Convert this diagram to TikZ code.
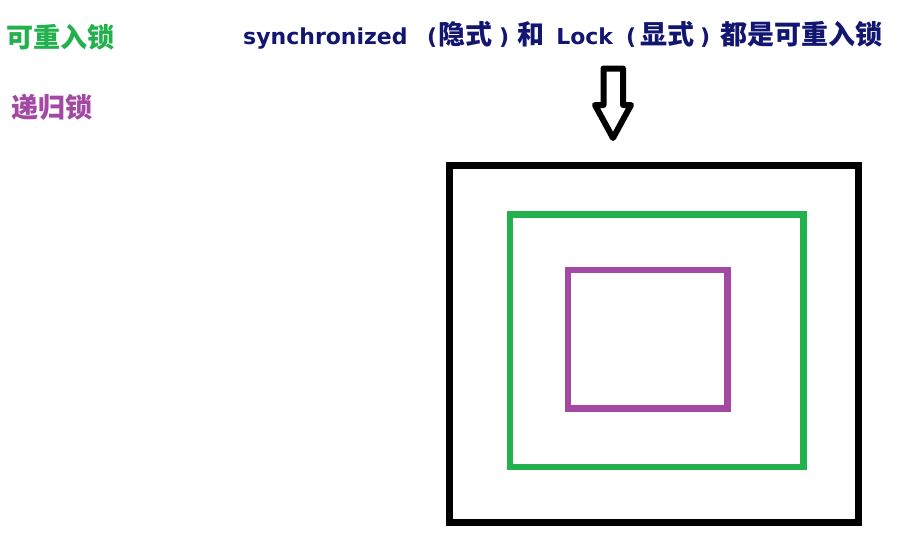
\documentclass[tikz,border=0pt]{standalone}
\usepackage{fontspec}
\setmainfont{DejaVu Sans}
\newfontfamily\cjk{Noto Sans CJK SC}
\usetikzlibrary{positioning}

\definecolor{lockgreen}{RGB}{34,177,76}
\definecolor{lockpurple}{RGB}{163,73,164}
\definecolor{titleblue}{RGB}{18,22,112}

% one piece of the title, in a box of fixed width
\newcommand{\seg}[3]{\makebox[#1pt][#2]{#3}}
\newcommand{\zh}[1]{{\cjk\fontsize{27}{27}\selectfont #1}}

\tikzset{
  label text/.style={anchor=base west, inner sep=0pt, font=\cjk\bfseries\fontsize{27}{27}\selectfont},
  lock box/.style={line width=#1, line join=miter}
}

\begin{document}
\begin{tikzpicture}[x=1pt, y=-1pt]
  \useasboundingbox (0,0) rectangle (904,557);

  % Legend labels
  \node[label text, text=lockgreen]  (reentrant) at (6,47)  {可重入锁};
  \node[label text, text=lockpurple] (recursive) at (11,117) {递归锁};

  % Title
  \node[anchor=base west, inner sep=0pt, text=titleblue,
        font=\bfseries\fontsize{22}{22}\selectfont] (title) at (243,44)
    {\seg{180}{l}{synchronized}\seg{18}{c}{(}\seg{49}{c}{\zh{隐式}}%
     \seg{28}{c}{)}\seg{26}{c}{\zh{和}}\seg{81}{c}{Lock}\seg{12}{c}{(}%
     \seg{60}{c}{\zh{显式}}\seg{16}{c}{)}\seg{169}{r}{\zh{都是可重入锁}}};

  % Hollow arrow
  \draw[line width=6, line join=round]
    (603.5,68.5) -- (623,68.5) -- (623,105) -- (631,105) -- (613,138)
    -- (595,105) -- (603.5,105) -- cycle;

  % Nested locks
  \draw[lock box=7]                   (449.5,165.5) rectangle (858,522.5);
  \draw[lock box=6.5, lockgreen]      (510,214.5)   rectangle (803.5,467);
  \draw[lock box=6.5, lockpurple]     (568,270)     rectangle (727.5,408.5);
\end{tikzpicture}
\end{document}
